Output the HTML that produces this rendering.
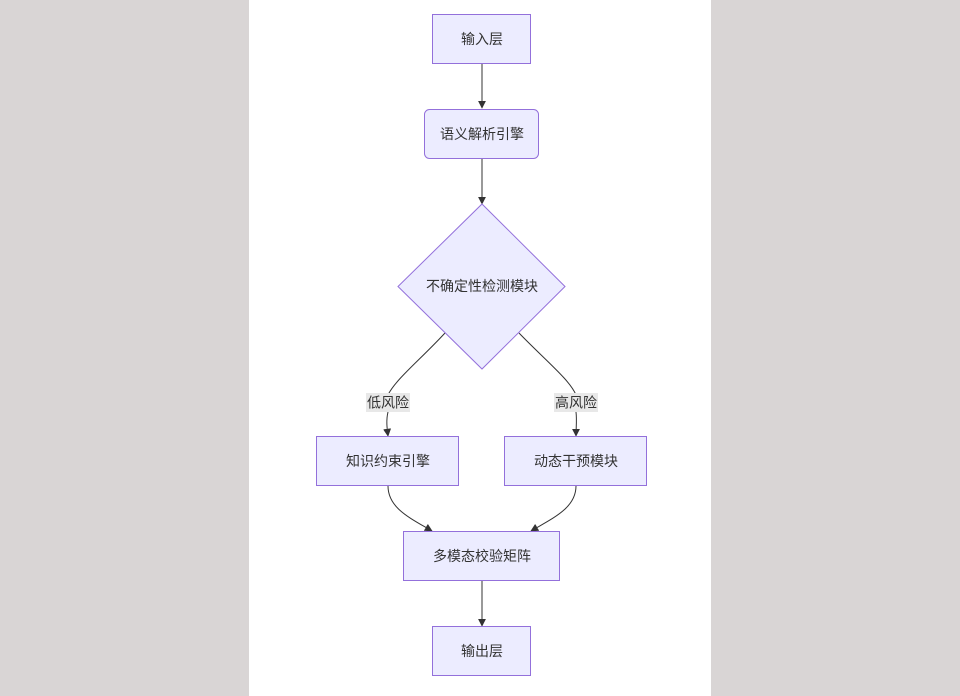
<!DOCTYPE html>
<html><head><meta charset="utf-8"><style>
html,body{margin:0;padding:0;background:#d9d5d5;}
svg{display:block;font-family:"Liberation Sans","Noto Sans CJK SC",sans-serif;}
</style></head><body>
<svg width="960" height="696" viewBox="0 0 960 696" xmlns="http://www.w3.org/2000/svg">
<defs><marker id="a" viewBox="0 0 10 10" refX="9" refY="5" markerWidth="8" markerHeight="8" orient="auto"><path d="M0,0L10,5L0,10z" fill="#333"/></marker></defs>
<rect x="0" y="0" width="960" height="696" fill="#d9d5d5"/>
<rect x="249" y="0" width="462" height="696" fill="#fff"/>
<g fill="none" stroke="#333" stroke-width="1">
<path d="M482,63L482,108" marker-end="url(#a)"/>
<path d="M482,158L482,204" marker-end="url(#a)"/>
<path d="M445,333C420,360 395,380 388,395"/>
<path d="M519,333C545,360 570,380 576,395"/>
<path d="M388,412C386,420 387,428 388,436" marker-end="url(#a)"/>
<path d="M576,412C577,420 576,428 576,436" marker-end="url(#a)"/>
<path d="M388,486C388,508 410,518 432,531" marker-end="url(#a)"/>
<path d="M576,486C576,508 553,518 531,531" marker-end="url(#a)"/>
<path d="M482,581L482,626" marker-end="url(#a)"/>
</g>
<g fill="#ececff" stroke="#9370db" stroke-width="1">
<rect x="432.5" y="14.5" width="98" height="49"/>
<rect x="424.5" y="109.5" width="114" height="49" rx="5"/>
<polygon points="482,204 565,286.5 482,369 398,286.5"/>
<rect x="316.5" y="436.5" width="142" height="49"/>
<rect x="504.5" y="436.5" width="142" height="49"/>
<rect x="403.5" y="531.5" width="156" height="49"/>
<rect x="432.5" y="626.5" width="98" height="49"/>
</g>
<rect x="366" y="393" width="44" height="19" fill="#e8e8e8"/>
<rect x="554" y="393" width="44" height="19" fill="#e8e8e8"/>
<g fill="#333" font-size="14" text-anchor="middle" dominant-baseline="central">
<text x="482" y="39">输入层</text>
<text x="482" y="134">语义解析引擎</text>
<text x="482" y="286">不确定性检测模块</text>
<text x="388" y="402.5">低风险</text>
<text x="576" y="402.5">高风险</text>
<text x="388" y="461">知识约束引擎</text>
<text x="576" y="461">动态干预模块</text>
<text x="482" y="556">多模态校验矩阵</text>
<text x="482" y="651">输出层</text>
</g>
</svg>
</body></html>
